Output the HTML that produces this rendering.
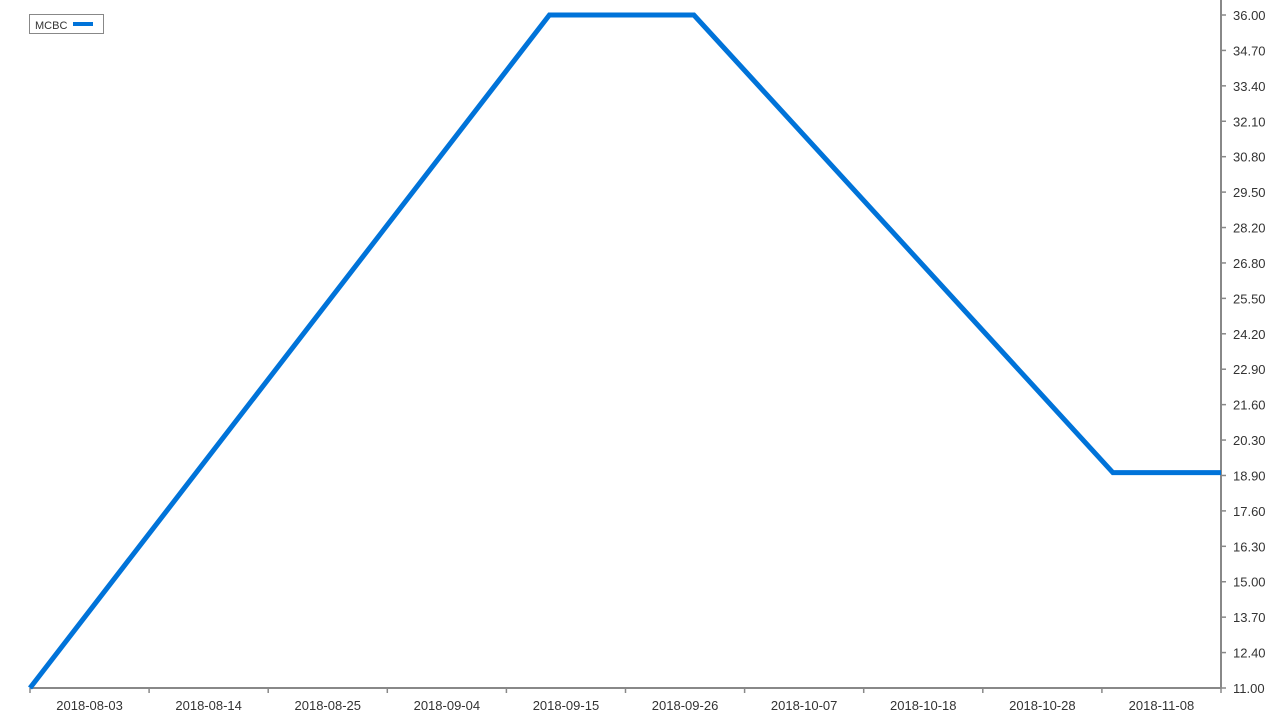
<!DOCTYPE html>
<html><head><meta charset="utf-8"><style>
body{margin:0;background:#fff;}
svg{display:block;font-family:"Liberation Sans",sans-serif;}
</style></head><body>
<svg id="chart" width="1280" height="720"></svg>
<script>
const xLabels=["2018-08-03","2018-08-14","2018-08-25","2018-09-04","2018-09-15","2018-09-26","2018-10-07","2018-10-18","2018-10-28","2018-11-08"];
const yTicks=["11.00","12.40","13.70","15.00","16.30","17.60","18.90","20.30","21.60","22.90","24.20","25.50","26.80","28.20","29.50","30.80","32.10","33.40","34.70","36.00"];
const pointDays=[0,47.1,60.2,98.2,108];
const seriesValues=[11,36,36,19,19];
const dayMax=108, yMin=11, yMax=36;
const L=30,R=1221,T=15,B=688;
const ns="http://www.w3.org/2000/svg";
const svg=document.getElementById('chart');
function el(t,a){const e=document.createElementNS(ns,t);for(const k in a)e.setAttribute(k,a[k]);svg.appendChild(e);return e;}
const xs=d=>L+(R-L)*d/dayMax;
const ys=v=>B-(B-T)*(v-yMin)/(yMax-yMin);
let a=el('line',{x1:L,y1:B,x2:R,y2:B,stroke:'#888','stroke-width':2});


a=el('line',{x1:R,y1:0,x2:R,y2:B,stroke:'#888','stroke-width':2});


const bw=(R-L)/xLabels.length;
for(let i=0;i<=xLabels.length;i++){
  const t=el('line',{x1:L+i*bw,y1:B,x2:L+i*bw,y2:B+5,stroke:'#888','stroke-width':1.5});
  
  
}
xLabels.forEach((s,i)=>{
  const t=el('text',{x:L+(i+0.5)*bw,y:710,'text-anchor':'middle','font-size':13,fill:'#333'});
  t.textContent=s;
  
  
});
yTicks.forEach((s,i)=>{
  const y=B-(B-T)*i/(yTicks.length-1);
  const t=el('line',{x1:R,y1:y,x2:R+5,y2:y,stroke:'#888','stroke-width':1.5});
  
  
  const tx=el('text',{x:R+12,y:y+5,'font-size':13,fill:'#333'});
  tx.textContent=s;
  
  
});
const pts=pointDays.map((d,i)=>xs(d)+','+ys(seriesValues[i])).join(' ');
const line=el('polyline',{points:pts,fill:'none',stroke:'#0073d9','stroke-width':5,'stroke-linejoin':'miter'});


const lg=el('rect',{x:29.5,y:14.5,width:74,height:19,fill:'#fff',stroke:'#888','stroke-width':1});


const lt=el('text',{x:35,y:29,'font-size':11,fill:'#333'});
lt.textContent='MCBC';


const ls=el('rect',{x:73,y:22,width:20,height:4,fill:'#0073d9'});


</script>
</body></html>
